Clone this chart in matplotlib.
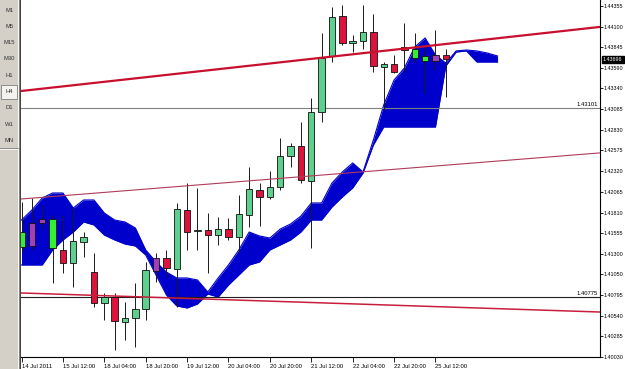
import matplotlib
matplotlib.use("Agg")
import matplotlib.pyplot as plt
from matplotlib.patches import Rectangle
from matplotlib.lines import Line2D
import numpy as np

plt.rcParams['font.family'] = ['Liberation Sans', 'DejaVu Sans']

# ---------------- data ----------------
opens = [1.41386, 1.41681, 1.41731, 1.41373, 1.41349, 1.41188, 1.41447, 1.41077, 1.40695, 1.40769,
         1.40461, 1.40511, 1.40622, 1.41250, 1.41250, 1.41114, 1.41841, 1.41583, 1.41595, 1.41533,
         1.41607, 1.41509, 1.41780, 1.42088, 1.42002, 1.42125, 1.42507, 1.42630, 1.42199, 1.43049,
         1.43739, 1.44232, 1.43899, 1.43924, 1.44035, 1.43603, 1.43640, 1.43850, 1.43714, 1.43677,
         1.43751, 1.43751]
highs = [1.41940, 1.41989, 1.41903, 1.41780, 1.41780, 1.41866, 1.41570, 1.41312, 1.40819, 1.40819,
         1.40708, 1.40942, 1.41201, 1.41312, 1.41349, 1.41928, 1.42174, 1.42113, 1.41804, 1.41755,
         1.41743, 1.42026, 1.42371, 1.42174, 1.42322, 1.42729, 1.42667, 1.42926, 1.43221, 1.44022,
         1.44343, 1.44367, 1.43998, 1.44367, 1.44256, 1.43665, 1.43751, 1.44146, 1.44022, 1.43850,
         1.44059, 1.43825]
lows = [1.41324, 1.41349, 1.41595, 1.40942, 1.41065, 1.40893, 1.41262, 1.40646, 1.40486, 1.40116,
        1.40240, 1.40153, 1.40486, 1.40954, 1.41016, 1.40646, 1.41349, 1.41349, 1.41065, 1.41410,
        1.41472, 1.41312, 1.41632, 1.41644, 1.41977, 1.42088, 1.42371, 1.42174, 1.41373, 1.42926,
        1.43665, 1.43875, 1.43788, 1.43825, 1.43542, 1.43074, 1.43530, 1.43542, 1.43665, 1.43271,
        1.43566, 1.43234]
closes = [1.41570, 1.41398, 1.41681, 1.41731, 1.41188, 1.41459, 1.41509, 1.40695, 1.40769, 1.40474,
          1.40511, 1.40622, 1.41102, 1.41090, 1.41127, 1.41854, 1.41570, 1.41595, 1.41533, 1.41607,
          1.41509, 1.41792, 1.42100, 1.42002, 1.42125, 1.42507, 1.42630, 1.42211, 1.43049, 1.43714,
          1.44220, 1.43899, 1.43924, 1.44035, 1.43616, 1.43640, 1.43542, 1.43813, 1.43825, 1.43739,
          1.43677, 1.43696]

# Ichimoku cloud spans (extend 5 bars beyond the last candle)
span_a = [1.41718, 1.41841, 1.41989, 1.42051, 1.42051, 1.41866, 1.41965, 1.41965, 1.41804, 1.41718,
          1.41694, 1.41620, 1.41349, 1.41201, 1.41077, 1.41004, 1.41004, 1.40979, 1.40831, 1.41004,
          1.41164, 1.41349, 1.41570, 1.41521, 1.41496, 1.41607, 1.41669, 1.41767, 1.41928, 1.41928,
          1.42174, 1.42310, 1.42421, 1.42310, 1.42704, 1.43135, 1.43443, 1.43591, 1.43850, 1.43961,
          1.43751, 1.43653, 1.43801, 1.43813, 1.43801, 1.43776, 1.43739]
span_b = [1.41164, 1.41164, 1.41164, 1.41349, 1.41472, 1.41570, 1.41694, 1.41657, 1.41533, 1.41472,
          1.41422, 1.41398, 1.41287, 1.41040, 1.40794, 1.40659, 1.40634, 1.40683, 1.40806, 1.40769,
          1.40917, 1.41040, 1.41164, 1.41201, 1.41349, 1.41410, 1.41472, 1.41570, 1.41718, 1.41718,
          1.41878, 1.42002, 1.42113, 1.42297, 1.42642, 1.42864, 1.42864, 1.42864, 1.42864, 1.42864,
          1.42864, 1.43616, 1.43788, 1.43801, 1.43665, 1.43665, 1.43665]

date_labels = ["14 Jul 2011", "15 Jul 12:00", "18 Jul 04:00", "18 Jul 20:00", "19 Jul 12:00",
               "20 Jul 04:00", "20 Jul 20:00", "21 Jul 12:00", "22 Jul 04:00", "22 Jul 20:00",
               "25 Jul 12:00"]
price_ticks = [1.44355, 1.44100, 1.43845, 1.43590, 1.43340, 1.43085, 1.42830, 1.42575, 1.42320,
               1.42065, 1.41810, 1.41555, 1.41300, 1.41050, 1.40795, 1.40540, 1.40285, 1.40030]
price_labels = ["1.44355", "1.44100", "1.43845", "1.43590", "1.43340", "1.43085", "1.42830",
                "1.42575", "1.42320", "1.42065", "1.41810", "1.41555", "1.41300", "1.41050",
                "1.40795", "1.40540", "1.40285", "1.40030"]
timeframes = ["M1", "M5", "M15", "M30", "H1", "H4", "D1", "W1", "MN"]
active_timeframe = "H4"

level_prices = [1.43101, 1.40775]
level_labels = ["1.43101", "1.40775"]
current_price = 1.43696

# trend lines: two anchor points each (bar index, price)
trend_upper = [(0, 1.43308), (50, 1.44014)]
trend_middle = [(0, 1.41977), (50, 1.42485)]
trend_lower = [(0, 1.40819), (50, 1.40609)]

# ---------------- figure ----------------
W, H, DPI = 625, 369, 100
fig = plt.figure(figsize=(W / DPI, H / DPI), dpi=DPI)
fig.patch.set_facecolor("white")

def fxp(px):
    return px / W

def fyp(px):
    return 1 - px / H

# left timeframe toolbar
fig.patches.append(Rectangle((0, 0), fxp(18), 1, transform=fig.transFigure,
                             facecolor="#d4d0c8", edgecolor="none", zorder=0))
fig.add_artist(Line2D([fxp(18.5), fxp(18.5)], [0, 1], transform=fig.transFigure,
                      color="#808080", lw=0.8))
fig.add_artist(Line2D([fxp(19.6), fxp(19.6)], [0, 1], transform=fig.transFigure,
                      color="#404040", lw=0.7))
for k, tf in enumerate(timeframes):
    yc = 10 + k * 16.3
    if tf == active_timeframe:
        fig.patches.append(Rectangle((fxp(1.5), fyp(yc + 7)), fxp(15), (14 / H),
                                     transform=fig.transFigure, facecolor="#f4f3ef",
                                     edgecolor="#808080", lw=0.6, zorder=1))
    fig.text(fxp(9.5), fyp(yc), tf, ha="center", va="center", fontsize=4.2,
             color="#303030", zorder=2)
fig.add_artist(Line2D([0, fxp(18)], [fyp(148), fyp(148)], transform=fig.transFigure,
                      color="#808080", lw=0.6))
fig.add_artist(Line2D([0, fxp(18)], [fyp(149), fyp(149)], transform=fig.transFigure,
                      color="#ffffff", lw=0.6))

ax = fig.add_axes([fxp(21), fyp(357), fxp(600) - fxp(21), fyp(0) - fyp(357)])
ax.set_facecolor("white")
ax.set_xlim(-0.05, 55.9)
ax.set_ylim(1.40030, 1.44429)

for s in ["left", "top"]:
    ax.spines[s].set_visible(False)
for s in ["right", "bottom"]:
    ax.spines[s].set_color("black")
    ax.spines[s].set_linewidth(0.8)

# cloud
xc = np.arange(len(span_a))
cloud_col = "#0000cc"
ax.fill_between(xc, span_a, span_b, color=cloud_col, lw=0, zorder=2)
ax.plot(xc, span_a, color=cloud_col, lw=0.8, zorder=2)
ax.plot(xc, span_b, color=cloud_col, lw=0.8, zorder=2)

# levels
ax.axhline(level_prices[0], color="#808080", lw=0.8, zorder=3)
ax.axhline(level_prices[1], color="#202020", lw=0.8, zorder=3)
for p, lab in zip(level_prices, level_labels):
    ax.text(55.7, p + 0.00008, lab, ha="right", va="bottom", fontsize=4.2, color="black", zorder=6)

# trend lines
ax.axline(trend_upper[0], trend_upper[1], color="#c8102e", lw=1.6, zorder=5)
ax.axline(trend_middle[0], trend_middle[1], color="#b03a5a", lw=0.8, zorder=5)
ax.axline(trend_lower[0], trend_lower[1], color="#c81e3c", lw=1.1, zorder=5)

# candles
lo_c = np.minimum(span_a, span_b)
hi_c = np.maximum(span_a, span_b)
bw = 0.62
for i, (o, h, l, c) in enumerate(zip(opens, highs, lows, closes)):
    mid = (o + c) / 2
    in_cloud = lo_c[i] <= mid <= hi_c[i]
    if c >= o:
        col = "#33ee33" if in_cloud else "#5fcf8e"
    else:
        col = "#a040b8" if in_cloud else "#dc143c"
    ax.vlines(i, l, h, color="#1a1a1a", lw=0.7, zorder=4)
    bottom = min(o, c)
    height = max(abs(c - o), 0.00004)
    ax.add_patch(Rectangle((i - bw / 2, bottom), bw, height, facecolor=col,
                           edgecolor="#101010", lw=0.6, zorder=4.5))

# axes ticks
ax.yaxis.tick_right()
ax.set_yticks(price_ticks)
ax.set_yticklabels(price_labels)
ax.tick_params(axis="y", length=2.2, width=0.6, labelsize=3.9, pad=0.5, colors="black")
ax.set_xticks(np.arange(0, 4 * len(date_labels), 4))
ax.set_xticklabels(date_labels)
ax.tick_params(axis="x", length=3.5, width=0.6, labelsize=4.2, pad=1.5, colors="black")
for t in ax.get_xticklabels():
    t.set_ha("left")

# current price marker
ax.annotate(f"{current_price:.5f}", xy=(1.0, current_price), xycoords=("axes fraction", "data"),
            xytext=(2.2, 0), textcoords="offset points", ha="left", va="center",
            fontsize=3.9, color="white",
            bbox=dict(boxstyle="square,pad=0.2", facecolor="black", edgecolor="black"),
            annotation_clip=False, zorder=10)

fig.savefig("out.png", dpi=DPI)
